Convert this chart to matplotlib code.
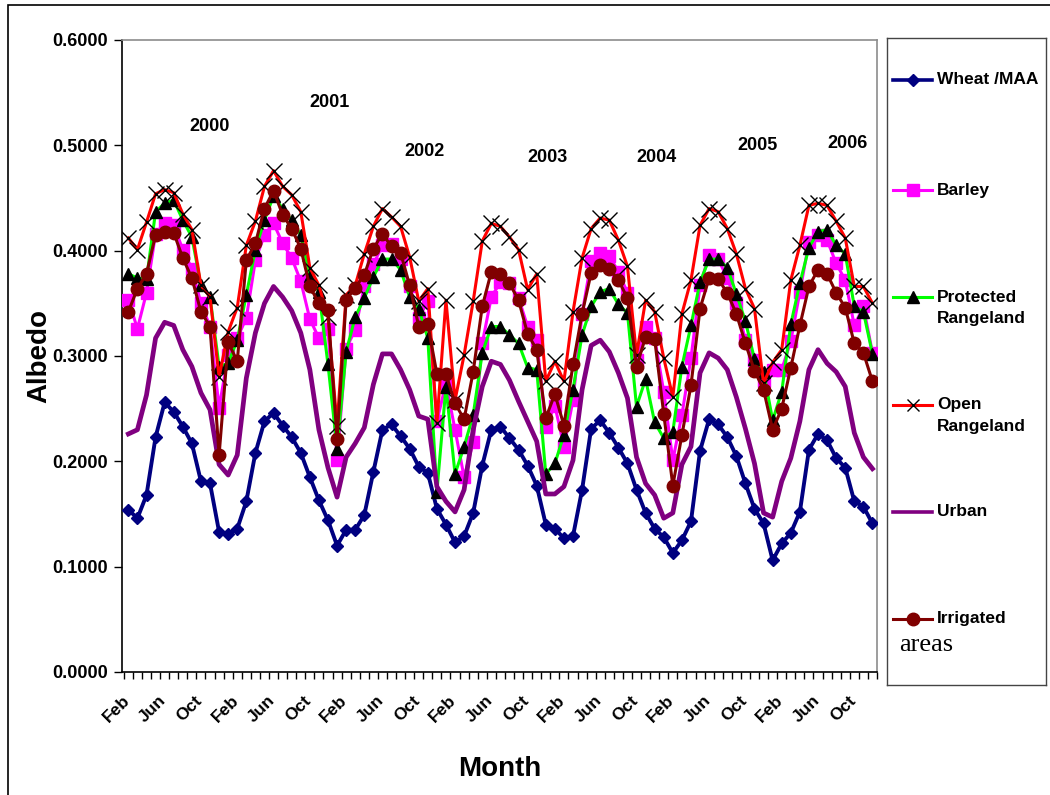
import matplotlib
matplotlib.use("Agg")
import matplotlib.pyplot as plt
from matplotlib.lines import Line2D
from matplotlib.patches import Rectangle

# Monthly albedo, Feb 2000 .. Dec 2006
wheat = [0.154, 0.146, 0.168, 0.223, 0.256, 0.247, 0.233, 0.217, 0.181, 0.179, 0.133, 0.131,
         0.136, 0.162, 0.208, 0.238, 0.246, 0.234, 0.223, 0.208, 0.185, 0.163, 0.144, 0.120,
         0.135, 0.135, 0.149, 0.190, 0.230, 0.235, 0.224, 0.212, 0.195, 0.189, 0.155, 0.140,
         0.123, 0.129, 0.151, 0.196, 0.230, 0.233, 0.222, 0.211, 0.196, 0.177, 0.140, 0.136,
         0.127, 0.129, 0.173, 0.231, 0.239, 0.227, 0.213, 0.198, 0.173, 0.151, 0.136, 0.128,
         0.113, 0.125, 0.143, 0.210, 0.240, 0.235, 0.223, 0.205, 0.179, 0.155, 0.141, 0.106,
         0.122, 0.132, 0.152, 0.211, 0.226, 0.220, 0.203, 0.194, 0.162, 0.157, 0.141]
barley = [0.353, 0.326, 0.360, 0.416, 0.426, 0.424, 0.401, 0.383, 0.350, 0.328, 0.251, 0.301,
          0.317, 0.336, 0.391, 0.415, 0.426, 0.407, 0.393, 0.371, 0.335, 0.317, 0.326, 0.201,
          0.307, 0.325, 0.366, 0.387, 0.405, 0.406, 0.392, 0.366, 0.336, 0.352, 0.238, 0.274,
          0.230, 0.185, 0.218, 0.312, 0.356, 0.370, 0.369, 0.355, 0.328, 0.315, 0.233, 0.253,
          0.214, 0.258, 0.340, 0.390, 0.398, 0.395, 0.380, 0.360, 0.296, 0.328, 0.317, 0.266,
          0.201, 0.244, 0.298, 0.367, 0.396, 0.392, 0.374, 0.350, 0.315, 0.296, 0.276, 0.287,
          0.287, 0.314, 0.361, 0.408, 0.415, 0.410, 0.388, 0.372, 0.329, 0.347, 0.303]
protected = [0.378, 0.374, 0.373, 0.437, 0.445, 0.448, 0.429, 0.413, 0.367, 0.356, 0.290, 0.293,
             0.315, 0.358, 0.401, 0.429, 0.452, 0.440, 0.429, 0.415, 0.376, 0.361, 0.292, 0.212,
             0.304, 0.337, 0.355, 0.375, 0.392, 0.392, 0.382, 0.356, 0.345, 0.317, 0.171, 0.271,
             0.188, 0.214, 0.244, 0.303, 0.328, 0.328, 0.320, 0.312, 0.289, 0.287, 0.188, 0.198,
             0.225, 0.268, 0.320, 0.347, 0.361, 0.364, 0.349, 0.341, 0.252, 0.278, 0.237, 0.222,
             0.228, 0.290, 0.329, 0.370, 0.392, 0.392, 0.384, 0.359, 0.333, 0.297, 0.285, 0.239,
             0.266, 0.330, 0.369, 0.403, 0.418, 0.420, 0.405, 0.397, 0.347, 0.342, 0.302]
open_range = [0.412, 0.401, 0.427, 0.454, 0.458, 0.455, 0.435, 0.420, 0.367, 0.356, 0.280, 0.323,
              0.346, 0.405, 0.428, 0.461, 0.476, 0.461, 0.453, 0.437, 0.384, 0.367, 0.337, 0.234,
              0.358, 0.367, 0.397, 0.423, 0.440, 0.432, 0.423, 0.394, 0.352, 0.364, 0.236, 0.353,
              0.258, 0.301, 0.352, 0.409, 0.426, 0.423, 0.413, 0.401, 0.363, 0.378, 0.276, 0.295,
              0.276, 0.342, 0.393, 0.421, 0.431, 0.429, 0.410, 0.385, 0.301, 0.353, 0.342, 0.298,
              0.261, 0.340, 0.372, 0.424, 0.440, 0.437, 0.421, 0.397, 0.364, 0.345, 0.274, 0.294,
              0.306, 0.372, 0.405, 0.443, 0.445, 0.443, 0.428, 0.412, 0.366, 0.366, 0.350]
urban = [0.226, 0.230, 0.263, 0.317, 0.332, 0.329, 0.306, 0.290, 0.265, 0.249, 0.197, 0.187,
         0.206, 0.279, 0.322, 0.350, 0.366, 0.356, 0.343, 0.322, 0.287, 0.230, 0.194, 0.166,
         0.204, 0.217, 0.232, 0.273, 0.302, 0.302, 0.287, 0.268, 0.243, 0.240, 0.176, 0.162,
         0.152, 0.173, 0.230, 0.271, 0.295, 0.292, 0.277, 0.257, 0.238, 0.219, 0.169, 0.169,
         0.176, 0.201, 0.268, 0.310, 0.315, 0.304, 0.284, 0.260, 0.204, 0.179, 0.168, 0.146,
         0.151, 0.197, 0.214, 0.284, 0.303, 0.298, 0.287, 0.261, 0.231, 0.198, 0.151, 0.147,
         0.181, 0.203, 0.238, 0.287, 0.306, 0.293, 0.285, 0.271, 0.227, 0.204, 0.193]
irrigated = [0.342, 0.364, 0.378, 0.415, 0.418, 0.417, 0.393, 0.374, 0.342, 0.328, 0.206, 0.313,
             0.295, 0.391, 0.407, 0.440, 0.457, 0.434, 0.421, 0.402, 0.366, 0.350, 0.344, 0.221,
             0.353, 0.365, 0.377, 0.402, 0.416, 0.404, 0.398, 0.367, 0.328, 0.330, 0.283, 0.283,
             0.255, 0.240, 0.285, 0.347, 0.380, 0.378, 0.369, 0.353, 0.321, 0.306, 0.241, 0.264,
             0.234, 0.292, 0.340, 0.379, 0.386, 0.383, 0.372, 0.355, 0.290, 0.318, 0.316, 0.245,
             0.177, 0.225, 0.272, 0.345, 0.374, 0.373, 0.360, 0.340, 0.312, 0.286, 0.268, 0.230,
             0.250, 0.289, 0.329, 0.366, 0.382, 0.378, 0.360, 0.346, 0.312, 0.303, 0.276]

month_labels = ["Feb", "Jun", "Oct"] * 7
years = ["2000", "2001", "2002", "2003", "2004", "2005", "2006"]
year_pos = [(8.9, 0.518), (22.2, 0.541), (32.6, 0.494), (46.2, 0.488),
            (58.2, 0.488), (69.3, 0.500), (79.3, 0.502)]

BOLD = dict(family=["Liberation Sans", "DejaVu Sans"], weight="bold")

fig = plt.figure(figsize=(10.5, 7.95), dpi=100)
W, H = 1050, 795

# chart frame
fig.add_artist(Rectangle((8 / W, -0.05), 1.2, 1 - 5 / H + 0.05, transform=fig.transFigure,
                         fill=False, edgecolor="black", linewidth=1.2))

ax = fig.add_axes([122 / W, 1 - 672 / H, (877 - 122) / W, (672 - 40) / H])
n = len(wheat)
x = list(range(n))

series = [
    (wheat, dict(color="#000080", lw=2.8, marker="D", ms=6.5, mfc="#000080", mec="#000080")),
    (barley, dict(color="#FF00FF", lw=2.2, marker="s", ms=8, mfc="#FF00FF", mec="#FF00FF")),
    (protected, dict(color="#00FF00", lw=2.2, marker="^", ms=8.5, mfc="black", mec="black")),
    (open_range, dict(color="#FF0000", lw=2.2, marker="x", ms=12, mfc="black", mec="black", mew=1.0)),
    (urban, dict(color="#800080", lw=3.4, marker=None)),
    (irrigated, dict(color="#800000", lw=2.2, marker="o", ms=9, mfc="#800000", mec="#800000")),
]
for vals, st in series:
    ax.plot(x, vals, **st, zorder=3)

ax.set_xlim(-0.5, n - 0.5)
ax.set_ylim(0, 0.6)
ax.set_yticks([i / 10 for i in range(7)])
ax.set_yticklabels([f"{i / 10:.4f}" for i in range(7)], fontsize=13, **BOLD)
# month names sit just left of their month, rotated like the category axis labels
ax.set_xticks([i - 0.7 for i in range(0, n, 4)])
ax.set_xticklabels(month_labels, rotation=45, ha="right", va="top",
                   rotation_mode="anchor", fontsize=12.5, **BOLD)
ax.set_xticks([i - 0.5 for i in range(n + 1)], minor=True)
ax.tick_params(axis="x", which="major", length=0, pad=15)
ax.tick_params(axis="x", which="minor", length=5, width=1, direction="out", color="black")
ax.tick_params(axis="y", length=6, width=1, direction="out", pad=4)

for s in ("left", "bottom"):
    ax.spines[s].set_color("black")
    ax.spines[s].set_linewidth(1.2)
for s in ("top", "right"):
    ax.spines[s].set_color("#8c8c8c")
    ax.spines[s].set_linewidth(1.2)

ax.set_ylabel("Albedo", fontsize=20, labelpad=0, **BOLD)
ax.set_xlabel("Month", fontsize=20, labelpad=22,
              family=["Liberation Sans Narrow", "Liberation Sans", "DejaVu Sans"], weight="bold")

for yr, (px, py) in zip(years, year_pos):
    ax.text(px, py, yr, ha="center", va="center", fontsize=13, **BOLD)

# legend panel
lg = fig.add_axes([887 / W, 1 - 685 / H, (1046 - 887) / W, (685 - 38) / H])
lg.set_xlim(887, 1046)
lg.set_ylim(685, 38)
lg.set_xticks([])
lg.set_yticks([])
for s in lg.spines.values():
    s.set_color("#444444")
    s.set_linewidth(1.0)

entries = [
    (80, ["Wheat /MAA"], series[0][1]),
    (190, ["Barley"], series[1][1]),
    (297, ["Protected", "Rangeland"], series[2][1]),
    (405, ["Open", "Rangeland"], series[3][1]),
    (512, ["Urban"], series[4][1]),
    (619, ["Irrigated"], series[5][1]),
]
for yy, lines, st in entries:
    lg.add_line(Line2D([893, 932], [yy, yy], color=st["color"], lw=min(st["lw"], 2.6)))
    if st.get("marker"):
        mst = {k: v for k, v in st.items() if k not in ("color", "lw")}
        if mst["marker"] == "x":
            mst["ms"] = 9
        lg.add_line(Line2D([912.5], [yy], linestyle="none", **mst))
    for k, t in enumerate(lines):
        lg.text(937, yy + 21 * k, t, ha="left", va="center", fontsize=12.5, **BOLD)
lg.text(899, 645, "areas", ha="left", va="center", fontsize=19,
        family=["Liberation Serif", "DejaVu Serif"])

fig.savefig("out.png", dpi=100)
